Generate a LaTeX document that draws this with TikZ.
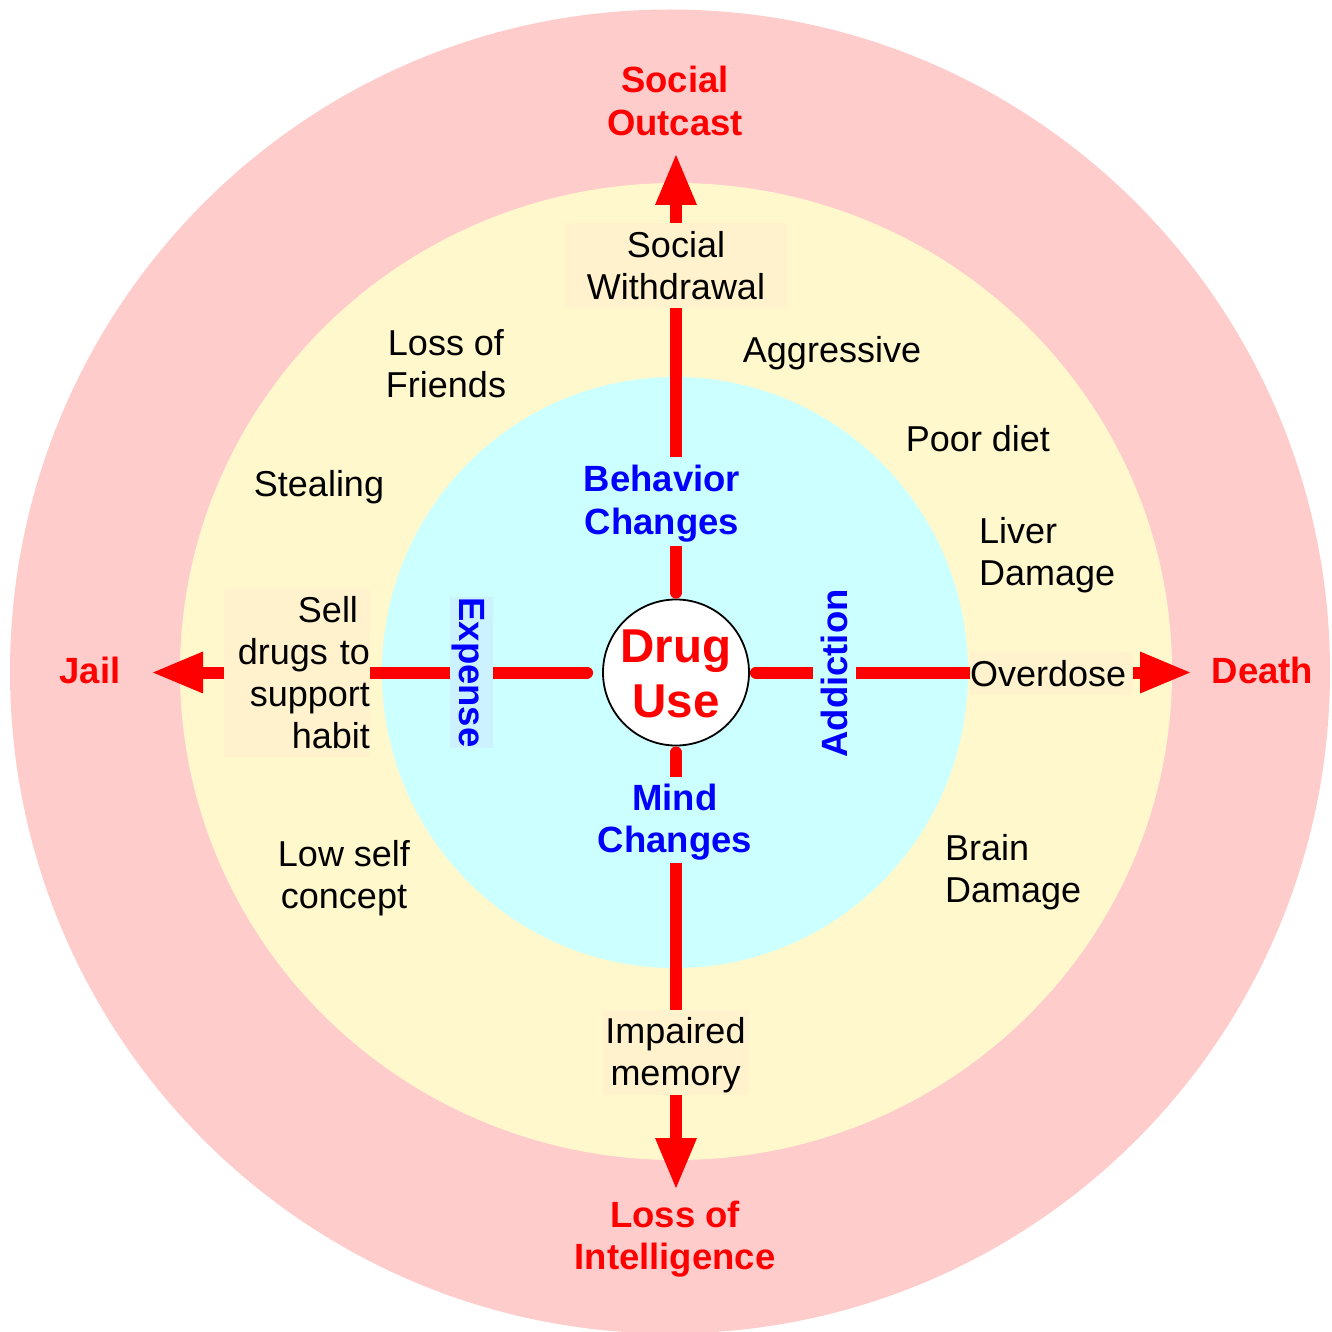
\documentclass[tikz,border=0pt]{standalone}
\usepackage{fontspec}
\setmainfont{Liberation Sans}
\usetikzlibrary{arrows.meta}
\definecolor{pinkbg}{HTML}{FFCCCC}
\definecolor{yellowbg}{HTML}{FFF8CC}
\definecolor{cyanbg}{HTML}{CCFFFF}
\definecolor{creambox}{HTML}{FFF2CC}
\definecolor{expbox}{HTML}{CCF2FF}
\definecolor{rd}{HTML}{FF0000}
\definecolor{bl}{HTML}{0000FF}
\newcommand\st{\rule[-6pt]{0pt}{37pt}}
\newcommand\stb{\rule[-6pt]{0pt}{46pt}}
\tikzset{
  txt/.style={font=\fontsize{36}{42}\selectfont, inner sep=0pt, align=center, text=black},
  btxt/.style={txt, font=\fontsize{36.5}{42.5}\selectfont\bfseries},
  redlab/.style={btxt, text=rd},
  bluelab/.style={btxt, text=bl},
  cbox/.style={txt, fill=creambox},
  shaft/.style={draw=rd, line width=12pt, line cap=round, -{Triangle[width=38pt,length=52pt]}}
}
\begin{document}
\begin{tikzpicture}[x=1pt,y=-1pt]
\path[use as bounding box] (0,0) rectangle (1331,1332);
% rings
\fill[pinkbg] (670,671.5) ellipse [x radius=660pt, y radius=662pt];
\fill[yellowbg] (676,671.5) ellipse [x radius=496pt, y radius=488.5pt];
\fill[cyanbg] (675,672.5) ellipse [x radius=293pt, y radius=295.5pt];
% centre
\node[circle, draw=black, line width=1.8pt, fill=white, minimum size=146pt, inner sep=0pt] (du) at (676,672.5) {};
% arrow tips
\coordinate (tN) at (676,153);
\coordinate (tS) at (676,1190);
\coordinate (tW) at (151,672.5);
\coordinate (tE) at (1192,672.5);
% shafts
\draw[shaft] ([yshift=6pt]du.north) -- (tN);
\draw[shaft] ([yshift=-6pt]du.south) -- (tS);
\draw[shaft] ([xshift=-15pt]du.west) -- (tW);
\draw[shaft] ([xshift=6pt]du.east) -- (tE);
% labels
\node[redlab] (so) at (675,101.5) {Social\st\\Outcast\st};
\node[cbox, minimum width=222pt, minimum height=85pt] (sw) at (676,265.5) {Social\st\\Withdrawal\st};
\node[txt] (lf) at (446,364) {Loss of\st\\Friends\st};
\node[txt] (ag) at (832,351) {Aggressive\st};
\node[txt] (pd) at (978,439) {Poor diet\st};
\node[txt, anchor=west, align=left] (ld) at (979,552.5) {Liver\st\\Damage\st};
\node[txt] (stl) at (319,485) {Stealing\st};
\node[cbox, text width=146pt, align=right, minimum height=169pt] (sell) at (297,672.5) {Sell\ \st\\drugs to\st\\support\st\\habit\st};
\node[redlab] (jail) at (90,671) {Jail\st};
\node[cbox, text width=163pt, align=left, minimum height=43pt] (od) at (1051.5,673.5) {Overdose\st};
\node[redlab] (death) at (1262.5,671) {Death\st};
\node[bluelab, fill=cyanbg, inner xsep=4pt, inner ysep=4pt] (bc) at (662,501.5) {Behavior\st\\Changes\st};
\node[bluelab, fill=cyanbg, inner xsep=4pt, inner ysep=2.5pt] (mc) at (675,820) {Mind\st\\Changes\st};
\node[txt] (lsc) at (344,876) {Low self\st\\concept\st};
\node[txt, anchor=west, align=left] (bd) at (945,870) {Brain\st\\Damage\st};
\node[cbox, minimum width=147pt, minimum height=85pt] (im) at (675.5,1052.5) {Impaired\st\\memory\st};
\node[redlab] (li) at (675,1237) {Loss of\st\\Intelligence\st};
\node[bluelab, rotate=-90, fill=expbox, minimum width=151pt, minimum height=43pt] (ex) at (471.5,672.5) {Expense\st};
\node[bluelab, rotate=90, fill=cyanbg, minimum width=163pt, minimum height=43pt] (ad) at (834.5,673.5) {Addiction\st};
% centre text
\node[font=\fontsize{47.5}{55}\selectfont\bfseries, text=rd, align=center, inner sep=0pt] (dut) at (du.center) {Drug\stb\\Use\stb};
\end{tikzpicture}
\end{document}
